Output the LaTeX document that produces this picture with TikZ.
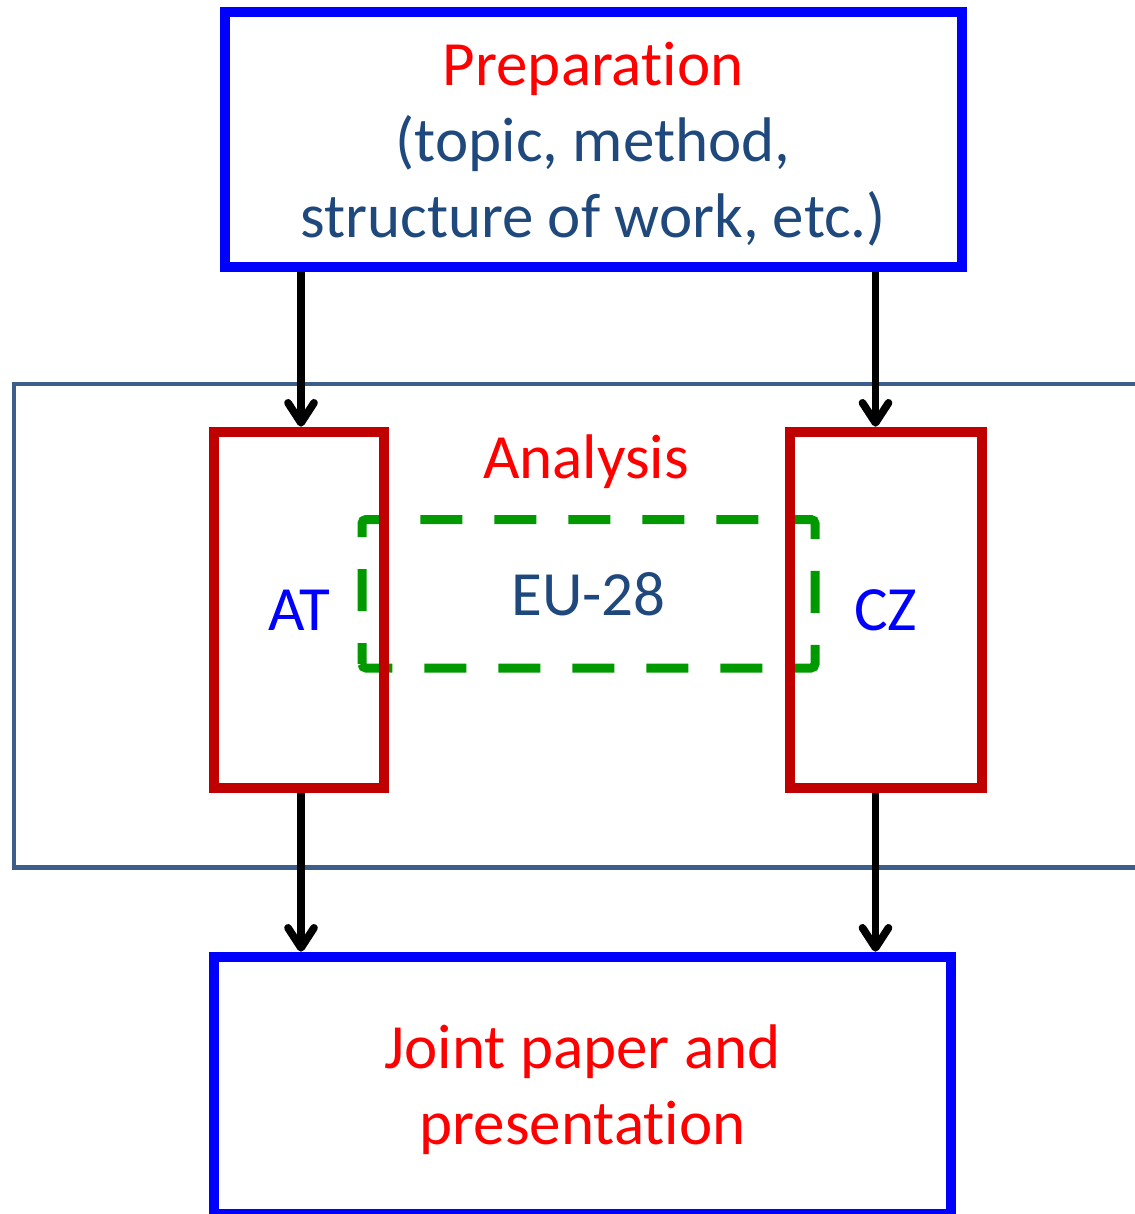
\documentclass[tikz,border=0pt]{standalone}
\usepackage{fontspec}
\setmainfont{Carlito}[Ligatures={NoCommon,NoRare,NoContextual},Contextuals=NoAlternate]
\usetikzlibrary{arrows.meta}
\definecolor{pblue}{HTML}{0000FF}
\definecolor{pred}{HTML}{FF0000}
\definecolor{dred}{HTML}{C00000}
\definecolor{tblue}{HTML}{1F497D}
\definecolor{sblue}{HTML}{3B5E8C}
\definecolor{pgreen}{HTML}{009900}
\newcommand{\nolig}{\kern0pt }
\begin{document}
\begin{tikzpicture}[x=1pt,y=-1pt,
  every node/.style={inner sep=0pt, font=\fontsize{63}{76}\selectfont},
  bluebox/.style={draw=pblue, line width=10pt, rectangle},
  boxtext/.style={align=center, inner sep=0pt},
  redbox/.style={draw=dred, line width=10pt, rectangle, text=pblue},
  framebox/.style={draw=sblue, line width=4.5pt, rectangle},
  eubox/.style={rectangle, outer sep=0pt, text=tblue},
  eudash/.style={draw=pgreen, line width=9pt, rounded corners=4pt,
    dash pattern=on 42pt off 32pt, dash phase=21pt},
  arr/.style={draw=black, line width=7.7pt,
    -{Straight Barb[length=20pt, width=26pt, line cap=round, line join=round]}},
  lbl/.style={text=pred, anchor=base}
]
\useasboundingbox (0,0) rectangle (1134,1214);

% Analysis frame
\node[framebox, minimum width=1136pt, minimum height=483.5pt] (analysis) at (582,625.75) {};
\node[lbl] (analysislbl) at (586,478) {Analysis};

% EU-28 dashed box
\node[eubox, minimum width=453pt, minimum height=148.5pt] (eu) at (588.5,593.75) {EU-28};
\draw[eudash] (eu.south west) -- (eu.north west) -- (eu.north east) -- (eu.south east) -- cycle;

% country boxes
\node[redbox, minimum width=170pt, minimum height=356.6pt] (at) at (299.3,610) {AT};
\node[redbox, minimum width=191.7pt, minimum height=356.6pt] (cz) at (885.85,610) {CZ};

% top and bottom boxes
\node[bluebox, minimum width=737.2pt, minimum height=254.6pt,
  label={[boxtext, text=tblue, yshift=-4pt]center:{\textcolor{pred}{Preparat\nolig ion}\\(topic, method,\\structure of work, etc.)}}]
  (prep) at (593.1,139.7) {};
\node[bluebox, minimum width=736.7pt, minimum height=257pt,
  label={[boxtext, text=pred, yshift=-4.5pt]center:{Joint paper and\\presentat\nolig ion}}]
  (joint) at (582.65,1085.2) {};

% arrows
\coordinate (lx) at (301,0);
\coordinate (rx) at (875.5,0);
\draw[arr] (prep.south -| lx) -- (at.north -| lx);
\draw[arr] (prep.south -| rx) -- (cz.north -| rx);
\draw[arr] (at.south -| lx) -- (joint.north -| lx);
\draw[arr] (cz.south -| rx) -- (joint.north -| rx);
\end{tikzpicture}
\end{document}
